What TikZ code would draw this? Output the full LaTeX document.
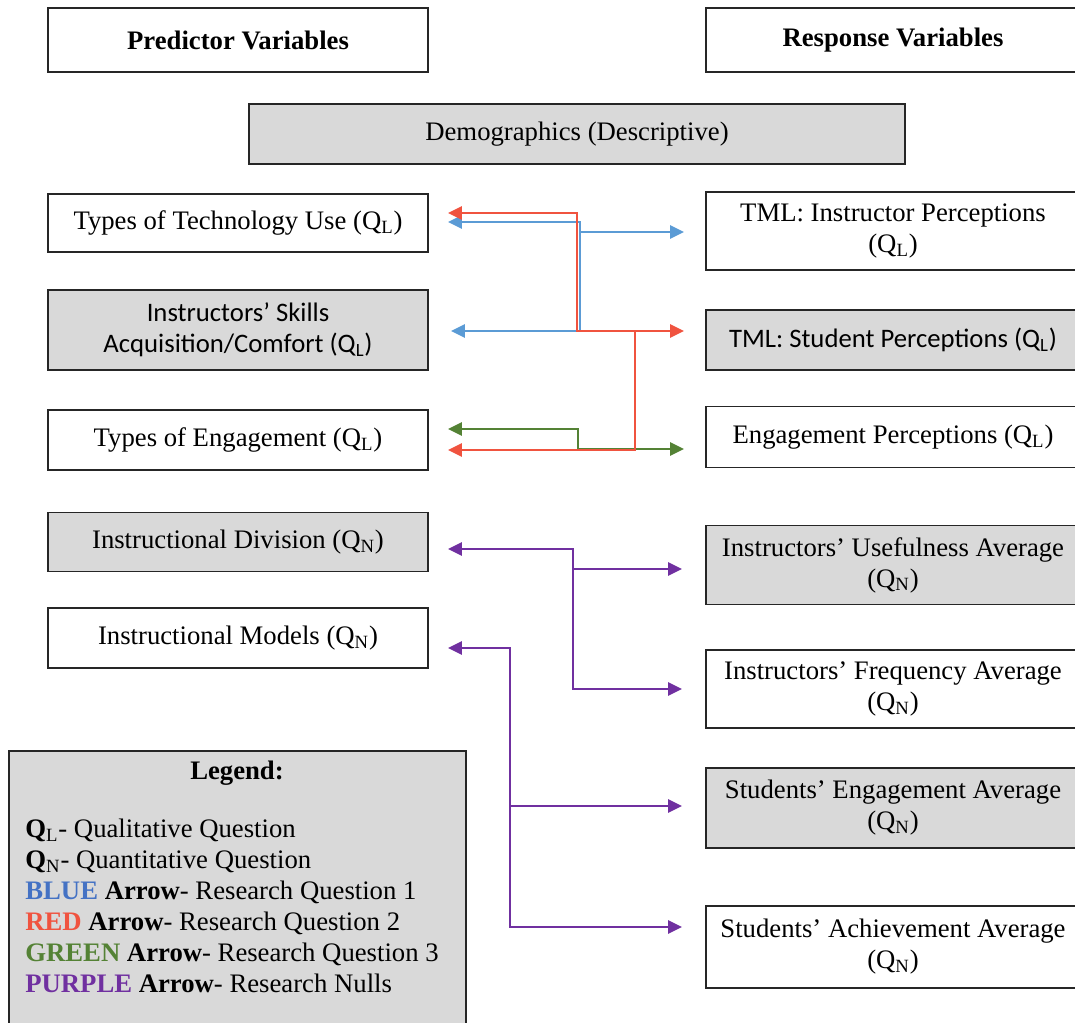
\documentclass[tikz,border=0pt]{standalone}
\usepackage{fontspec}
\setmainfont{Liberation Serif}
\newfontfamily\calibri{Carlito}
\usetikzlibrary{calc,arrows.meta}
\newcommand*{\pxl}{0.02cm}
\newcommand*{\lwd}{380*\pxl}
\newcommand*{\rwd}{374*\pxl}
\definecolor{boxgrey}{HTML}{D9D9D9}
\definecolor{rqblue}{HTML}{5B9BD5}
\definecolor{rqred}{HTML}{F0533F}
\definecolor{rqgreen}{HTML}{548235}
\definecolor{rqpurple}{HTML}{7030A0}
\definecolor{txtblue}{HTML}{4472C4}

\begin{document}
\begin{tikzpicture}[x=\pxl, y=-\pxl, font=\fontsize{15.2}{17.6}\selectfont,
    box/.style={draw=black!85, line width=1.1pt, align=center, inner sep=2pt},
    greybox/.style={box, fill=boxgrey},
    conn/.style={line width=1.5pt, arrows={-Triangle[length=0.28cm, width=0.26cm]}},
    both/.style={arrows={Triangle[length=0.28cm, width=0.26cm]-Triangle[length=0.28cm, width=0.26cm]}}]
    \clip (0,0) rectangle (1075,1023);
    % headings
    \node [box, minimum width=\lwd, minimum height=64*\pxl] (pred) at (238,40) {\textbf{Predictor Variables}};
    \node [box, minimum width=\rwd, minimum height=64*\pxl] (resp) at (893,40) {\textbf{Response Variables}};
    \node [greybox, minimum width=656*\pxl, minimum height=60*\pxl] (demo) at (577,134) {Demographics (Descriptive)};
    % predictor side
    \node [box, minimum width=\lwd, minimum height=58*\pxl] (tech) at (238,223) {Types of Technology Use (Q\textsubscript{L})};
    \node [greybox, minimum width=\lwd, minimum height=80*\pxl, font=\calibri\fontsize{15.2}{17.6}\selectfont] (skill) at (238,330) {Instructors’ Skills\\Acquisition/Comfort (Q\textsubscript{L})};
    \node [box, minimum width=\lwd, minimum height=60*\pxl] (eng) at (238,440) {Types of Engagement (Q\textsubscript{L})};
    \node [greybox, minimum width=\lwd, minimum height=59*\pxl] (div) at (238,542) {Instructional Division (Q\textsubscript{N})};
    \node [box, minimum width=\lwd, minimum height=60*\pxl] (mod) at (238,638) {Instructional Models (Q\textsubscript{N})};
    % response side
    \node [box, minimum width=\rwd, minimum height=78*\pxl] (tmlI) at (893,231) {TML: Instructor Perceptions\\(Q\textsubscript{L})};
    \node [greybox, minimum width=\rwd, minimum height=60*\pxl, font=\calibri\fontsize{15.2}{17.6}\selectfont] (tmlS) at (893,340) {TML: Student Perceptions (Q\textsubscript{L})};
    \node [box, minimum width=\rwd, minimum height=61*\pxl] (engP) at (893,437) {Engagement Perceptions (Q\textsubscript{L})};
    \node [greybox, minimum width=\rwd, minimum height=79*\pxl] (useA) at (893,565) {Instructors’ Usefulness Average\\(Q\textsubscript{N})};
    \node [box, minimum width=\rwd, minimum height=78*\pxl] (freq) at (893,689) {Instructors’ Frequency Average\\(Q\textsubscript{N})};
    \node [greybox, minimum width=\rwd, minimum height=80*\pxl] (stEng) at (893,808) {Students’ Engagement Average\\(Q\textsubscript{N})};
    \node [box, minimum width=\rwd, minimum height=82*\pxl] (stAch) at (893,947) {Students’ Achievement Average\\(Q\textsubscript{N})};
    % legend
    \node [greybox, anchor=north west, minimum width=457*\pxl, minimum height=290*\pxl] (legend) at (8,750) {};
    \node (legT) at (237,773) {\textbf{Legend:}};
    \node [anchor=north west, align=left, inner sep=0pt] (legK) at (25,819) {%
        \textbf{Q}\textsubscript{L}- Qualitative Question\\
        \textbf{Q}\textsubscript{N}- Quantitative Question\\
        \textbf{\color{txtblue}BLUE} \textbf{Arrow}- Research Question 1\\
        \textbf{\color{rqred}RED} \textbf{Arrow}- Research Question 2\\
        \textbf{\color{rqgreen}GREEN} \textbf{Arrow}- Research Question 3\\
        \textbf{\color{rqpurple}PURPLE} \textbf{Arrow}- Research Nulls};
    % research question arrows
    \draw [conn, both, rqblue] ($(tech.east)+(19,-1)$) -- (580,222) -- (580,331) -- ($(skill.east)+(22,1)$);
    \draw [conn, rqblue] (580,232) -- ($(tmlI.west)+(-21,1)$);
    \draw [conn, both, rqgreen] ($(eng.east)+(19,-11)$) -| (578,449) -- ($(engP.west)+(-21,12)$);
    \draw [conn, both, rqred] ($(tech.east)+(19,-10)$) -| (577,331) -- ($(tmlS.west)+(-21,-9)$);
    \draw [conn, rqred] (635,331) |- ($(eng.east)+(19,10)$);
    % null arrows
    \draw [conn, both, rqpurple] ($(div.east)+(19,7)$) -| (573,689) -- ($(freq.west)+(-23,0)$);
    \draw [conn, rqpurple] (573,569) -- ($(useA.west)+(-23,4)$);
    \draw [conn, both, rqpurple] ($(mod.east)+(19,10)$) -| (510,927) -- ($(stAch.west)+(-23,-20)$);
    \draw [conn, rqpurple] (510,806) -- ($(stEng.west)+(-23,-2)$);
\end{tikzpicture}
\end{document}
